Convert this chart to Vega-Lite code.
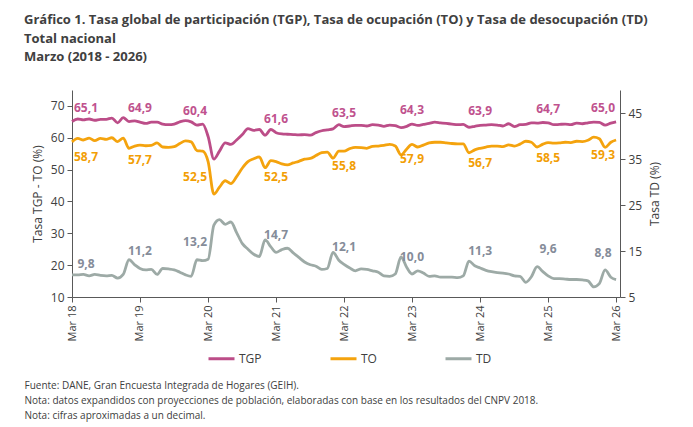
{
  "$schema": "https://vega.github.io/schema/vega-lite/v6.json",
  "width": 548,
  "height": 207,
  "autosize": {"type": "none"},
  "padding": {"left": 72, "top": 90, "right": 73, "bottom": 130},
  "background": "white",
  "config": {
    "locale": {"number": {"decimal": ",", "thousands": ".", "grouping": [3], "currency": ["$", ""]}},
    "font": "Open Sans",
    "view": {"stroke": null},
    "axis": {"grid": false, "domainColor": "#595959", "tickColor": "#595959", "labelColor": "#404040", "titleColor": "#404040", "labelFont": "Open Sans", "titleFont": "Open Sans", "labelFontSize": 12, "titleFontSize": 12, "titleFontWeight": "normal", "tickSize": 5, "labelPadding": 3},
    "legend": {"orient": "none", "legendX": 135, "legendY": 254, "direction": "horizontal", "symbolType": "stroke", "symbolStrokeWidth": 3, "symbolSize": 676, "labelFontSize": 12, "labelFont": "Open Sans", "labelColor": "#404040", "columnPadding": 62, "labelOffset": 3, "padding": 0}
  },
  "title": {
    "text": ["Gráfico 1. Tasa global de participación (TGP), Tasa de ocupación (TO) y Tasa de desocupación (TD)", "Total nacional", "Marzo (2018 - 2026)"],
    "anchor": "start", "frame": "group", "dx": -48, "offset": 26,
    "font": "Open Sans", "fontSize": 13, "fontWeight": "bold", "color": "#404040", "lineHeight": 18.5
  },
  "data": {
    "format": {"parse": {"date": "date"}},
    "values": [
      {"date": "2018-03-01", "TGP": 65.1, "TO": 58.7, "TD": 9.8},
      {"date": "2018-04-01", "TGP": 65.9, "TO": 59.8, "TD": 9.8},
      {"date": "2018-05-01", "TGP": 65.6, "TO": 59.3, "TD": 9.9},
      {"date": "2018-06-01", "TGP": 65.9, "TO": 59.9, "TD": 9.6},
      {"date": "2018-07-01", "TGP": 65.5, "TO": 59.1, "TD": 9.9},
      {"date": "2018-08-01", "TGP": 65.8, "TO": 59.8, "TD": 9.7},
      {"date": "2018-09-01", "TGP": 65.8, "TO": 59.5, "TD": 9.6},
      {"date": "2018-10-01", "TGP": 66.2, "TO": 60.0, "TD": 9.7},
      {"date": "2018-11-01", "TGP": 64.7, "TO": 58.8, "TD": 9.1},
      {"date": "2018-12-01", "TGP": 66.3, "TO": 59.9, "TD": 9.9},
      {"date": "2019-01-01", "TGP": 65.1, "TO": 56.7, "TD": 13.1},
      {"date": "2019-02-01", "TGP": 65.3, "TO": 57.4, "TD": 12.0},
      {"date": "2019-03-01", "TGP": 64.9, "TO": 57.7, "TD": 11.2},
      {"date": "2019-04-01", "TGP": 64.5, "TO": 57.5, "TD": 10.9},
      {"date": "2019-05-01", "TGP": 64.9, "TO": 57.6, "TD": 11.0},
      {"date": "2019-06-01", "TGP": 64.9, "TO": 58.4, "TD": 9.9},
      {"date": "2019-07-01", "TGP": 64.3, "TO": 57.1, "TD": 11.2},
      {"date": "2019-08-01", "TGP": 64.1, "TO": 57.0, "TD": 11.1},
      {"date": "2019-09-01", "TGP": 64.3, "TO": 57.2, "TD": 10.9},
      {"date": "2019-10-01", "TGP": 65.0, "TO": 58.2, "TD": 10.4},
      {"date": "2019-11-01", "TGP": 65.4, "TO": 59.0, "TD": 9.8},
      {"date": "2019-12-01", "TGP": 65.0, "TO": 58.7, "TD": 9.5},
      {"date": "2020-01-01", "TGP": 64.0, "TO": 56.0, "TD": 13.1},
      {"date": "2020-02-01", "TGP": 64.3, "TO": 55.8, "TD": 12.9},
      {"date": "2020-03-01", "TGP": 60.4, "TO": 52.5, "TD": 13.2},
      {"date": "2020-04-01", "TGP": 53.3, "TO": 42.3, "TD": 20.6},
      {"date": "2020-05-01", "TGP": 55.8, "TO": 44.5, "TD": 21.8},
      {"date": "2020-06-01", "TGP": 58.4, "TO": 46.5, "TD": 20.8},
      {"date": "2020-07-01", "TGP": 57.9, "TO": 45.6, "TD": 21.3},
      {"date": "2020-08-01", "TGP": 59.3, "TO": 47.8, "TD": 19.0},
      {"date": "2020-09-01", "TGP": 61.0, "TO": 50.5, "TD": 16.6},
      {"date": "2020-10-01", "TGP": 62.9, "TO": 52.5, "TD": 15.4},
      {"date": "2020-11-01", "TGP": 62.3, "TO": 53.4, "TD": 14.3},
      {"date": "2020-12-01", "TGP": 62.6, "TO": 54.0, "TD": 13.8},
      {"date": "2021-01-01", "TGP": 60.8, "TO": 50.6, "TD": 17.4},
      {"date": "2021-02-01", "TGP": 62.6, "TO": 52.8, "TD": 15.9},
      {"date": "2021-03-01", "TGP": 61.6, "TO": 52.5, "TD": 14.7},
      {"date": "2021-04-01", "TGP": 61.2, "TO": 51.8, "TD": 15.3},
      {"date": "2021-05-01", "TGP": 61.1, "TO": 51.5, "TD": 15.6},
      {"date": "2021-06-01", "TGP": 61.0, "TO": 52.1, "TD": 14.6},
      {"date": "2021-07-01", "TGP": 60.9, "TO": 52.6, "TD": 13.6},
      {"date": "2021-08-01", "TGP": 61.0, "TO": 53.3, "TD": 12.6},
      {"date": "2021-09-01", "TGP": 60.8, "TO": 53.5, "TD": 12.0},
      {"date": "2021-10-01", "TGP": 61.6, "TO": 54.4, "TD": 11.7},
      {"date": "2021-11-01", "TGP": 62.2, "TO": 55.3, "TD": 11.0},
      {"date": "2021-12-01", "TGP": 62.5, "TO": 55.5, "TD": 11.2},
      {"date": "2022-01-01", "TGP": 62.8, "TO": 53.6, "TD": 14.7},
      {"date": "2022-02-01", "TGP": 64.1, "TO": 55.8, "TD": 13.0},
      {"date": "2022-03-01", "TGP": 63.5, "TO": 55.8, "TD": 12.1},
      {"date": "2022-04-01", "TGP": 63.7, "TO": 56.6, "TD": 11.3},
      {"date": "2022-05-01", "TGP": 63.9, "TO": 57.0, "TD": 10.7},
      {"date": "2022-06-01", "TGP": 63.9, "TO": 56.9, "TD": 11.1},
      {"date": "2022-07-01", "TGP": 63.7, "TO": 56.7, "TD": 11.0},
      {"date": "2022-08-01", "TGP": 64.1, "TO": 57.3, "TD": 10.7},
      {"date": "2022-09-01", "TGP": 64.0, "TO": 57.4, "TD": 10.4},
      {"date": "2022-10-01", "TGP": 63.6, "TO": 57.6, "TD": 9.6},
      {"date": "2022-11-01", "TGP": 64.0, "TO": 57.9, "TD": 9.5},
      {"date": "2022-12-01", "TGP": 63.8, "TO": 57.4, "TD": 10.0},
      {"date": "2023-01-01", "TGP": 63.2, "TO": 54.6, "TD": 13.7},
      {"date": "2023-02-01", "TGP": 63.6, "TO": 56.5, "TD": 11.4},
      {"date": "2023-03-01", "TGP": 64.3, "TO": 57.9, "TD": 10.0},
      {"date": "2023-04-01", "TGP": 63.9, "TO": 57.1, "TD": 10.7},
      {"date": "2023-05-01", "TGP": 64.2, "TO": 57.7, "TD": 10.2},
      {"date": "2023-06-01", "TGP": 64.5, "TO": 58.4, "TD": 9.5},
      {"date": "2023-07-01", "TGP": 64.9, "TO": 58.6, "TD": 9.6},
      {"date": "2023-08-01", "TGP": 64.7, "TO": 58.6, "TD": 9.3},
      {"date": "2023-09-01", "TGP": 64.5, "TO": 58.4, "TD": 9.3},
      {"date": "2023-10-01", "TGP": 64.3, "TO": 58.2, "TD": 9.3},
      {"date": "2023-11-01", "TGP": 64.1, "TO": 58.1, "TD": 9.2},
      {"date": "2023-12-01", "TGP": 64.2, "TO": 58.1, "TD": 9.6},
      {"date": "2024-01-01", "TGP": 63.3, "TO": 55.3, "TD": 12.8},
      {"date": "2024-02-01", "TGP": 63.6, "TO": 56.2, "TD": 11.8},
      {"date": "2024-03-01", "TGP": 63.9, "TO": 56.7, "TD": 11.3},
      {"date": "2024-04-01", "TGP": 64.0, "TO": 57.1, "TD": 10.8},
      {"date": "2024-05-01", "TGP": 64.1, "TO": 57.4, "TD": 10.5},
      {"date": "2024-06-01", "TGP": 64.0, "TO": 57.4, "TD": 10.3},
      {"date": "2024-07-01", "TGP": 63.7, "TO": 57.2, "TD": 10.2},
      {"date": "2024-08-01", "TGP": 64.4, "TO": 57.8, "TD": 10.0},
      {"date": "2024-09-01", "TGP": 63.5, "TO": 57.4, "TD": 9.6},
      {"date": "2024-10-01", "TGP": 64.1, "TO": 58.0, "TD": 9.5},
      {"date": "2024-11-01", "TGP": 64.2, "TO": 58.9, "TD": 8.2},
      {"date": "2024-12-01", "TGP": 64.7, "TO": 58.6, "TD": 9.4},
      {"date": "2025-01-01", "TGP": 64.6, "TO": 57.1, "TD": 11.6},
      {"date": "2025-02-01", "TGP": 64.8, "TO": 58.0, "TD": 10.5},
      {"date": "2025-03-01", "TGP": 64.7, "TO": 58.5, "TD": 9.6},
      {"date": "2025-04-01", "TGP": 64.1, "TO": 58.3, "TD": 9.0},
      {"date": "2025-05-01", "TGP": 64.2, "TO": 58.4, "TD": 9.0},
      {"date": "2025-06-01", "TGP": 64.3, "TO": 58.6, "TD": 8.9},
      {"date": "2025-07-01", "TGP": 64.1, "TO": 58.5, "TD": 8.8},
      {"date": "2025-08-01", "TGP": 64.6, "TO": 58.9, "TD": 8.8},
      {"date": "2025-09-01", "TGP": 64.4, "TO": 58.8, "TD": 8.7},
      {"date": "2025-10-01", "TGP": 64.7, "TO": 59.2, "TD": 8.5},
      {"date": "2025-11-01", "TGP": 64.9, "TO": 60.2, "TD": 7.2},
      {"date": "2025-12-01", "TGP": 64.8, "TO": 59.7, "TD": 7.9},
      {"date": "2026-01-01", "TGP": 64.0, "TO": 57.0, "TD": 10.9},
      {"date": "2026-02-01", "TGP": 64.6, "TO": 58.6, "TD": 9.3},
      {"date": "2026-03-01", "TGP": 65.0, "TO": 59.3, "TD": 8.8}
    ]
  },
  "encoding": {
    "x": {
      "field": "date", "type": "temporal", "timeUnit": "utcyearmonth",
      "scale": {"domain": [{"year": 2018, "month": 3, "date": 1, "utc": true}, {"year": 2026, "month": 3, "date": 22, "utc": true}], "nice": false},
      "axis": {
        "values": [
          {"year": 2018, "month": 3, "date": 1, "utc": true},
          {"year": 2019, "month": 3, "date": 1, "utc": true},
          {"year": 2020, "month": 3, "date": 1, "utc": true},
          {"year": 2021, "month": 3, "date": 1, "utc": true},
          {"year": 2022, "month": 3, "date": 1, "utc": true},
          {"year": 2023, "month": 3, "date": 1, "utc": true},
          {"year": 2024, "month": 3, "date": 1, "utc": true},
          {"year": 2025, "month": 3, "date": 1, "utc": true},
          {"year": 2026, "month": 3, "date": 1, "utc": true}
        ],
        "format": "%b %y", "labelAngle": 270, "labelFontSize": 11, "labelAlign": "right", "labelBaseline": "middle",
        "title": ["Fuente: DANE, Gran Encuesta Integrada de Hogares (GEIH).", "Nota: datos expandidos con proyecciones de población, elaboradas con base en los resultados del CNPV 2018.", "Nota: cifras aproximadas a un decimal."],
        "titleAnchor": null, "titleAlign": "left", "titleBaseline": "top", "titleX": -48, "titleY": 83, "titleFontSize": 10, "titleLineHeight": 15, "titleAngle": 0
      }
    }
  },
  "layer": [
    {
      "transform": [{"fold": ["TGP", "TO"], "as": ["serie", "valor"]}],
      "encoding": {
        "y": {"field": "valor", "type": "quantitative", "scale": {"domain": [10, 75], "nice": false, "zero": false},
              "axis": {"orient": "left", "values": [10, 20, 30, 40, 50, 60, 70], "title": "Tasa TGP - TO (%)", "titlePadding": 6}}
      },
      "layer": [
        {
          "mark": {"type": "line", "strokeWidth": 2.8, "interpolate": "monotone"},
          "encoding": {
            "color": {"field": "serie", "type": "nominal", "title": null,
                      "scale": {"domain": ["TGP", "TO", "TD"], "range": ["#BC4D88", "#F4A30E", "#9DAAA6"]}}
          }
        },
        {
          "transform": [{"filter": "datum.serie == 'TGP' && utcmonth(datum.date) == 2"}],
          "mark": {"type": "text", "fontWeight": "bold", "fontSize": 12, "color": "#C0528E",
                   "dy": {"expr": "utcyear(datum.date) == 2020 ? -25 : -14"},
                   "dx": {"expr": "utcyear(datum.date) == 2018 ? 14 : (utcyear(datum.date) == 2026 || utcyear(datum.date) == 2020 ? -13 : 0)"}},
          "encoding": {"text": {"field": "valor", "type": "quantitative", "format": ".1f"}}
        },
        {
          "transform": [{"filter": "datum.serie == 'TO' && utcmonth(datum.date) == 2"}],
          "mark": {"type": "text", "fontWeight": "bold", "fontSize": 12, "color": "#F29E05",
                   "dy": 15,
                   "dx": {"expr": "utcyear(datum.date) == 2018 ? 14 : (utcyear(datum.date) == 2026 || utcyear(datum.date) == 2020 ? -13 : 0)"}},
          "encoding": {"text": {"field": "valor", "type": "quantitative", "format": ".1f"}}
        }
      ]
    },
    {
      "transform": [{"fold": ["TD"], "as": ["serie", "valor"]}],
      "encoding": {
        "y": {"field": "valor", "type": "quantitative", "scale": {"domain": [5, 50], "nice": false, "zero": false},
              "axis": {"orient": "right", "values": [5, 15, 25, 35, 45], "title": "Tasa TD (%)", "titleAngle": 270, "titleBaseline": "top", "titlePadding": 8}}
      },
      "layer": [
        {
          "mark": {"type": "line", "strokeWidth": 2.8, "interpolate": "monotone"},
          "encoding": {"color": {"field": "serie", "type": "nominal", "title": null}}
        },
        {
          "transform": [{"filter": "utcmonth(datum.date) == 2"}],
          "mark": {"type": "text", "fontWeight": "bold", "fontSize": 12, "color": "#858C99",
                   "dy": {"expr": "utcyear(datum.date) >= 2025 ? -27 : (utcyear(datum.date) == 2018 ? -11 : -17)"},
                   "dx": {"expr": "utcyear(datum.date) == 2018 ? 14 : (utcyear(datum.date) == 2026 || utcyear(datum.date) == 2020 ? -13 : 0)"}},
          "encoding": {"text": {"field": "valor", "type": "quantitative", "format": ".1f"}}
        }
      ]
    }
  ],
  "resolve": {"scale": {"y": "independent"}}
}
